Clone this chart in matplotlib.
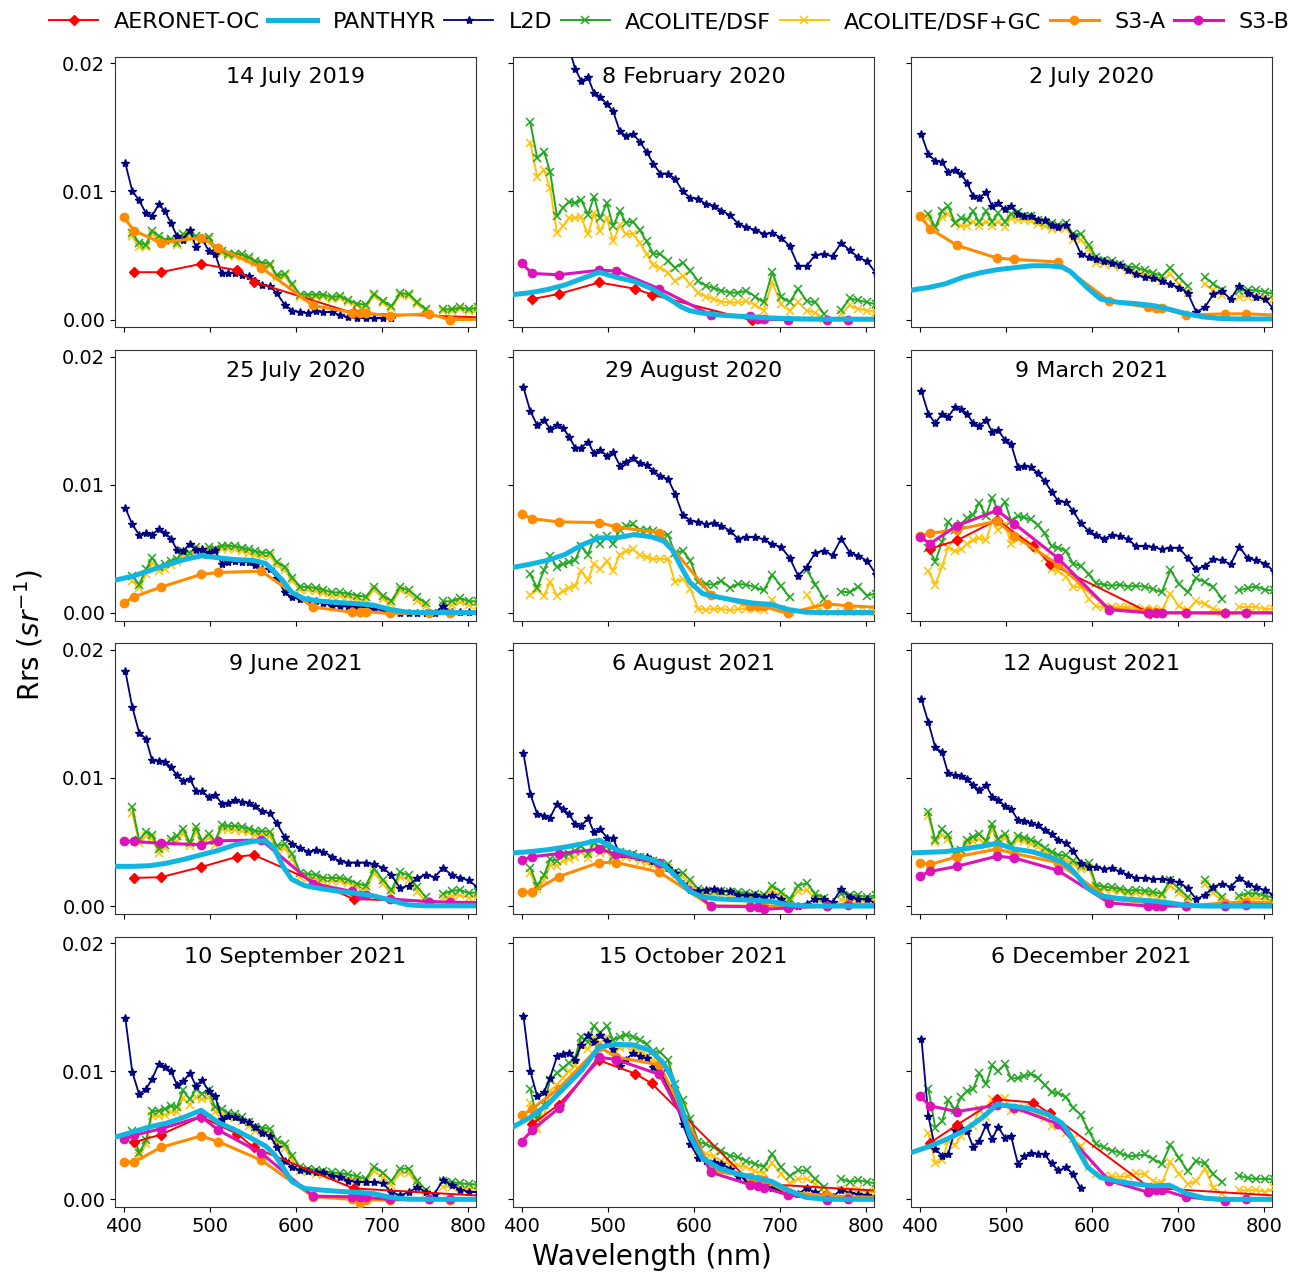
import numpy as np
import matplotlib
matplotlib.use("Agg")
import matplotlib.pyplot as plt
from matplotlib.lines import Line2D
from matplotlib.ticker import FormatStrFormatter

nan = np.nan
U = 1e-3  # values below are Rrs in units of 1e-3 sr^-1

DATES = ["14 July 2019", "8 February 2020", "2 July 2020", "25 July 2020",
         "29 August 2020", "9 March 2021", "9 June 2021", "6 August 2021",
         "12 August 2021", "10 September 2021", "15 October 2021", "6 December 2021"]

# wavelengths (nm)
PW = [402, 410, 418, 426, 433, 441, 448, 455, 462, 469, 477, 484, 491, 499, 506, 514,
      521, 529, 537, 545, 553, 561, 570, 578, 587, 596, 605, 614, 623, 632, 642, 651,
      661, 671, 681, 691, 701, 711, 721, 731, 741, 751, 761, 771, 781, 791, 801, 811]
OW = [400, 412, 443, 490, 510, 560, 620, 665, 674, 681, 709, 754, 779, 865]
AW = [412, 443, 490, 532, 551, 667, 870]
PANW = [390, 410, 430, 450, 470, 490, 510, 530, 550, 565, 575, 585, 595, 610, 630,
        650, 670, 690, 710, 730, 750, 770, 790, 810]

# ---------------- L2D ----------------
L2D_01 = [12.2, 10.05, 9.3, 8.3, 8.1, 9.0, 8.45, 7.55, 6.5, 6.25, 7.0, 5.65, 6.3, 5.35, 5.15, 3.6, 3.6, 3.65, 3.5, 3.4, 3.0, 2.7, 2.6, 2.05, 1.15, 0.7, 0.57, 0.5, 0.65, 0.6, 0.57, 0.36, 0.18, 0.13, 0.1, 0.1, 0.1, 0.1]
L2D_02 = [28.0, 26.5, 25.5, 24.5, 23.5, 22.5, 22.0, 21.2, 19.6, 18.65, 18.9, 17.7, 17.4, 16.8, 16.3, 14.7, 14.35, 14.5, 13.9, 13.1, 12.15, 11.4, 11.4, 11.0, 10.0, 9.5, 9.45, 9.0, 8.9, 8.5, 8.15, 7.5, 7.2, 7.0, 6.7, 6.75, 6.4, 5.75, 4.2, 4.2, 5.05, 5.1, 4.95, 6.0, 5.4, 4.85, 4.55, 3.65]
L2D_03 = [14.45, 12.9, 12.4, 12.3, 11.5, 11.7, 11.35, 10.65, 9.65, 9.5, 9.95, 8.85, 9.1, 8.6, 8.85, 8.25, 8.05, 8.05, 7.8, 7.75, 7.4, 7.25, 7.4, 6.5, 5.15, 4.85, 4.75, 4.55, 4.45, 4.25, 3.85, 3.55, 3.3, 3.25, 3.0, 2.75, 2.5, 2.1, 0.6, 0.95, 2.0, 2.2, 1.6, 2.65, 2.1, 1.75, 1.6, 0.8]
L2D_04 = [8.2, 6.9, 6.1, 6.25, 6.1, 6.55, 6.25, 5.8, 4.9, 4.8, 5.4, 4.9, 4.95, 4.7, 4.9, 3.8, 3.95, 4.05, 4.0, 3.95, 3.75, 3.4, 3.4, 2.75, 1.6, 1.2, 1.1, 1.0, 0.9, 0.75, 0.55, 0.5, 0.5, 0.45, 0.45, 0.3, 0.2, 0.0, 0.02, 0.02, 0.02, 0.02, 0.02, 0.5, 0.05, 0.05, 0.05, 0.05]
L2D_05 = [17.6, 15.75, 14.65, 15.05, 14.35, 14.7, 14.45, 13.75, 12.9, 12.9, 13.35, 12.45, 12.75, 12.25, 12.55, 11.5, 11.8, 12.05, 11.7, 11.55, 11.1, 10.65, 10.45, 9.3, 7.65, 7.2, 7.1, 6.9, 7.0, 6.8, 6.4, 5.8, 5.9, 5.9, 5.75, 5.35, 5.15, 4.3, 2.9, 3.6, 4.7, 4.85, 4.5, 5.8, 4.7, 4.45, 4.05, 3.05]
L2D_06 = [17.3, 15.55, 14.8, 15.55, 15.3, 16.05, 15.9, 15.55, 14.8, 14.6, 15.05, 14.15, 14.25, 13.5, 13.2, 11.4, 11.5, 11.4, 10.9, 10.3, 9.45, 8.7, 8.65, 7.95, 7.0, 6.4, 6.05, 5.8, 6.05, 6.0, 5.75, 5.2, 5.2, 5.15, 4.95, 5.1, 5.05, 4.3, 3.4, 3.65, 4.2, 4.1, 3.8, 5.15, 4.25, 4.1, 3.85, 3.25]
L2D_07 = [18.35, 15.55, 13.55, 13.05, 11.4, 11.35, 11.25, 10.85, 10.2, 9.8, 9.9, 9.0, 8.95, 8.5, 8.7, 8.0, 8.05, 8.25, 8.15, 8.05, 7.8, 7.4, 7.25, 6.45, 5.4, 4.85, 4.55, 4.25, 4.35, 4.25, 3.85, 3.5, 3.4, 3.4, 3.4, 3.25, 3.0, 2.4, 1.4, 1.6, 2.2, 2.45, 2.25, 3.0, 2.4, 2.2, 2.0, 1.45]
L2D_08 = [11.95, 8.75, 7.2, 7.05, 6.9, 8.0, 7.55, 7.2, 6.4, 6.25, 6.85, 5.75, 6.0, 5.35, 5.3, 4.05, 4.05, 4.0, 3.85, 3.8, 3.55, 3.25, 3.0, 2.55, 1.7, 1.25, 1.2, 1.25, 1.35, 1.2, 1.15, 0.9, 0.85, 0.85, 0.7, 0.85, 0.55, 0.1, 0.0, 0.2, 0.55, 0.55, 0.3, 1.35, 0.7, 0.55, 0.55, 0.2]
L2D_09 = [16.15, 14.35, 12.4, 12.0, 10.35, 10.2, 10.15, 9.95, 9.45, 9.05, 9.45, 8.55, 8.3, 7.8, 7.6, 6.7, 6.65, 6.5, 6.3, 5.95, 5.65, 5.15, 4.95, 4.3, 3.4, 3.05, 3.05, 2.9, 2.95, 2.7, 2.45, 2.2, 2.2, 2.1, 2.1, 2.0, 1.85, 1.4, 0.55, 0.85, 1.5, 1.75, 1.5, 2.2, 1.75, 1.45, 1.25, 0.85]
L2D_10 = [14.15, 9.95, 8.2, 8.6, 9.4, 10.6, 10.35, 10.0, 8.95, 9.2, 9.85, 8.85, 9.3, 8.45, 8.1, 6.3, 6.5, 6.4, 6.2, 6.0, 5.65, 5.2, 4.95, 4.05, 3.0, 2.5, 2.25, 2.2, 2.1, 2.1, 1.85, 1.75, 1.45, 1.35, 1.35, 1.35, 1.25, 0.55, 0.3, 0.55, 0.95, 0.55, 0.45, 1.5, 1.1, 0.75, 0.6, 0.55]
L2D_11 = [14.35, 10.0, 8.05, 8.4, 9.5, 11.15, 11.35, 11.4, 10.9, 12.05, 12.85, 12.3, 12.8, 12.35, 11.75, 10.4, 10.9, 11.4, 11.15, 11.0, 10.35, 10.0, 8.85, 7.75, 5.85, 4.3, 3.25, 3.0, 2.95, 2.75, 2.4, 1.85, 1.6, 1.4, 1.2, 0.85, 0.75, 0.5, 0.45, 0.85, 0.55, 0.3, 0.2, 0.75, 0.5, 0.4, 0.3, 0.2]
L2D_12 = [12.55, 6.5, 3.95, 3.4, 3.55, 5.4, 5.6, 5.3, 4.1, 4.55, 5.8, 4.7, 5.65, 4.8, 4.95, 2.75, 3.35, 3.6, 3.55, 3.5, 2.8, 2.25, 2.5, 1.95, 0.85]

# ---------------- ACOLITE/DSF ----------------
DSF_01 = [nan, 6.75, 6.0, 5.85, 6.95, 6.5, 6.25, 6.3, 6.0, 6.65, 6.75, 6.5, 6.25, 6.45, 5.6, 5.35, 5.15, 5.15, 5.1, 4.85, 4.55, 4.45, 4.35, 3.45, 3.55, 2.75, 1.95, 1.95, 1.95, 1.95, 1.75, 1.85, 1.5, 1.25, 1.15, 2.0, 1.45, 1.05, 2.05, 2.0, 1.35, 0.8, nan, 0.8, 0.8, 0.95, 0.8, 0.95]
DSF_02 = [nan, 15.4, 12.6, 13.1, 11.55, 8.05, 8.75, 9.2, 9.1, 9.35, 8.2, 9.6, 7.9, 9.1, 7.3, 8.45, 7.55, 7.65, 7.0, 6.1, 5.15, 5.1, 4.6, 4.05, 4.45, 3.8, 3.0, 2.65, 2.45, 2.25, 2.1, 2.1, 2.25, 1.8, 1.35, 3.7, 1.8, 1.35, 2.4, 1.45, 1.35, 0.45, nan, 0.75, 1.65, 1.5, 1.35, 1.2]
DSF_03 = [nan, 8.25, 7.2, 8.5, 8.85, 7.55, 7.9, 7.8, 8.45, 7.6, 8.45, 7.65, 8.3, 7.65, 8.25, 8.4, 8.1, 8.05, 7.8, 7.65, 7.55, 7.35, 7.55, 6.65, 6.7, 5.85, 4.85, 4.65, 4.55, 4.35, 4.1, 4.1, 3.85, 3.65, 3.4, 4.05, 3.3, 2.6, nan, 3.3, 2.8, 2.3, nan, 2.25, 2.3, 2.3, 2.15, 2.0]
DSF_04 = [nan, 2.9, 2.2, 3.4, 4.3, 3.55, 3.8, 4.05, 4.2, 4.85, 4.7, 5.15, 4.7, 5.15, 4.95, 5.25, 5.25, 5.2, 5.1, 4.95, 4.8, 4.7, 4.7, 3.95, 3.6, 2.75, 2.05, 2.0, 1.95, 1.8, 1.6, 1.6, 1.5, 1.35, 1.25, 2.05, 1.35, 0.95, 2.0, 1.75, 1.2, 0.75, nan, 0.9, 0.9, 1.15, 0.9, 0.9]
DSF_05 = [nan, 3.0, 1.95, 3.35, 4.45, 3.55, 3.8, 3.95, 4.1, 5.2, 4.55, 5.85, 5.35, 6.0, 5.4, 6.5, 6.75, 6.9, 6.5, 6.5, 6.35, 6.1, 6.1, 4.65, 4.85, 4.05, 2.4, 2.25, 2.2, 2.5, 1.95, 2.25, 2.2, 2.0, 1.75, 2.95, 2.1, 1.2, nan, 3.35, 2.2, 1.1, nan, 1.65, 1.6, 2.05, 1.35, 1.5]
DSF_06 = [nan, 5.1, 4.0, 5.55, 7.1, 6.5, 6.95, 7.4, 7.65, 8.6, 7.55, 9.0, 7.95, 8.65, 7.2, 7.55, 7.45, 7.3, 6.85, 6.2, 5.2, 5.1, 4.8, 3.85, 3.65, 3.0, 2.3, 2.2, 2.1, 2.2, 2.05, 2.1, 2.05, 1.85, 1.6, 3.35, 2.25, 1.6, 2.7, 2.4, 2.0, 1.1, nan, 1.75, 1.95, 2.05, 1.8, 1.75]
DSF_07 = [nan, 7.75, 5.15, 5.8, 5.55, 4.45, 4.8, 5.2, 5.45, 6.05, 4.95, 6.2, 5.1, 5.65, 5.05, 6.35, 6.25, 6.25, 6.2, 6.05, 5.85, 5.85, 5.8, 4.7, 4.85, 4.05, 2.6, 2.5, 2.45, 2.2, 2.2, 2.2, 2.05, 1.75, 1.6, 2.9, 2.05, 1.25, 2.65, 2.4, 1.45, 0.7, nan, 0.95, 1.2, 1.25, 1.0, 1.1]
DSF_08 = [nan, 3.0, 1.6, 2.4, 3.65, 3.55, 3.95, 4.05, 4.3, 4.7, 4.1, 4.95, 4.55, 4.7, 3.85, 4.2, 4.1, 4.05, 3.85, 3.65, 3.5, 3.35, 3.3, 2.65, 2.6, 2.0, 1.35, 1.2, 1.15, 1.15, 1.1, 1.1, 1.0, 0.95, 0.85, 1.6, 1.1, 0.55, 1.6, 1.8, 0.95, 0.65, nan, 0.95, 0.85, 0.85, 0.7, 0.85]
DSF_09 = [nan, 7.35, 5.15, 6.0, 5.55, 4.05, 4.35, 5.15, 5.4, 5.6, 5.1, 6.4, 5.2, 5.65, 4.8, 5.5, 5.35, 5.15, 4.95, 4.55, 4.2, 4.0, 3.95, 3.55, 3.15, 3.4, 1.6, 1.5, 1.45, 1.35, 1.2, 1.25, 1.2, 1.1, 0.95, 2.0, 1.35, 0.7, nan, 2.05, 1.35, 0.7, nan, 0.8, 1.0, 1.0, 0.8, 0.65]
DSF_10 = [nan, 5.35, 3.65, 4.6, 6.9, 6.9, 7.05, 7.3, 7.2, 8.5, 7.8, 8.6, 8.25, 8.5, 7.2, 7.05, 6.75, 6.65, 6.4, 6.05, 5.65, 5.6, 5.5, 4.6, 4.3, 3.4, 2.5, 2.4, 2.3, 2.2, 2.1, 2.05, 1.95, 1.8, 1.6, 2.55, 2.05, 1.45, 2.4, 2.4, 1.45, 0.75, nan, 1.45, 1.35, 1.25, 1.2, 1.15]
DSF_11 = [nan, 8.6, 6.25, 7.4, 9.35, 9.85, 10.25, 10.65, 11.05, 12.7, 12.3, 13.55, 13.0, 13.55, 12.45, 12.65, 12.85, 12.7, 12.45, 12.1, 11.55, 11.5, 10.85, 9.0, 7.75, 6.25, 4.5, 4.3, 4.05, 3.8, 3.4, 3.3, 3.0, 2.75, 2.55, 3.5, 2.5, 1.8, 2.25, 2.25, 1.6, 0.95, nan, 1.6, 1.35, 1.5, 1.35, 1.25]
DSF_12 = [nan, 8.65, 5.6, 6.1, 7.75, 7.0, 7.95, 8.45, 8.6, 9.85, 9.0, 10.45, 10.0, 10.55, 9.45, 9.45, 9.6, 9.8, 9.5, 8.95, 8.35, 8.3, 7.95, 7.15, 6.6, 5.35, 4.3, 4.05, 3.8, 3.65, 3.35, 3.4, 3.5, 3.15, 2.75, 4.25, 3.25, 2.2, 3.0, 2.8, 1.95, 1.35, nan, 1.85, 1.65, 1.6, 1.6, 1.55]

# ---------------- ACOLITE/DSF+GC ----------------
GC_01 = [nan, 6.5, 5.65, 5.65, 6.7, 6.3, 6.1, 6.1, 5.8, 6.4, 6.5, 6.3, 6.1, 6.3, 5.45, 5.2, 5.0, 5.0, 4.9, 4.7, 4.4, 4.3, 4.2, 3.3, 3.4, 2.6, 1.8, 1.8, 1.8, 1.8, 1.6, 1.7, 1.35, 1.1, 1.0, 1.85, 1.3, 0.9, 1.9, 1.85, 1.2, 0.65, nan, 0.65, 0.65, 0.8, 0.65, 0.8]
GC_02 = [nan, 13.8, 11.15, 11.7, 10.25, 6.75, 7.3, 7.9, 7.95, 8.0, 6.65, 8.3, 6.9, 7.95, 6.1, 7.35, 6.65, 6.7, 6.0, 5.1, 4.25, 4.05, 3.65, 3.0, 3.4, 2.75, 2.1, 1.8, 1.6, 1.4, 1.35, 1.35, 1.45, 1.15, 0.7, 2.9, 1.2, 0.7, 1.35, 0.7, 0.55, 0.05, nan, 0.45, 1.1, 0.85, 0.7, 0.6]
GC_03 = [nan, 7.9, 7.15, 8.0, 8.25, 7.55, 7.3, 7.3, 7.65, 7.3, 7.65, 7.3, 7.65, 7.25, 7.95, 7.8, 7.8, 7.7, 7.45, 7.3, 7.05, 7.05, 7.15, 6.25, 6.25, 5.5, 4.45, 4.35, 4.3, 4.1, 3.8, 3.65, 3.55, 3.35, 3.05, 3.55, 2.75, 2.1, nan, 2.75, 2.3, 1.9, nan, 1.8, 1.8, 1.8, 1.75, 1.6]
GC_04 = [nan, 2.5, 1.9, 3.0, 3.9, 3.3, 3.45, 3.7, 3.95, 4.5, 4.45, 4.9, 4.5, 4.9, 4.7, 5.0, 5.0, 4.95, 4.85, 4.7, 4.55, 4.45, 4.45, 3.7, 3.35, 2.5, 1.8, 1.75, 1.7, 1.55, 1.35, 1.35, 1.25, 1.1, 1.0, 1.8, 1.1, 0.7, 1.75, 1.5, 0.95, 0.5, nan, 0.6, 0.6, 0.85, 0.6, 0.6]
GC_05 = [nan, 1.4, 1.8, 1.35, 2.4, 1.35, 1.7, 1.95, 2.1, 3.3, 2.55, 3.85, 3.4, 4.05, 3.3, 4.55, 4.8, 4.95, 4.5, 4.35, 4.2, 4.2, 4.2, 2.4, 2.65, 1.85, 0.3, 0.25, 0.3, 0.3, 0.2, 0.3, 0.3, 0.3, 0.2, 1.0, 0.3, 0.1, nan, 1.4, 0.45, 0.05, nan, 0.05, 0.05, 0.05, 0.05, 0.05]
GC_06 = [nan, 3.25, 2.2, 3.65, 5.15, 4.8, 4.95, 5.35, 5.65, 5.85, 5.65, 7.15, 6.45, 6.95, 5.35, 5.75, 5.6, 5.35, 4.9, 4.3, 3.4, 3.25, 2.8, 2.0, 2.05, 1.1, 0.5, 0.45, 0.45, 0.45, 0.45, 0.4, 0.3, 0.3, 0.2, 1.5, 0.5, 0.2, 0.9, 0.7, 0.3, 0.1, nan, 0.45, 0.45, 0.45, 0.3, 0.3]
GC_07 = [nan, 7.3, 4.95, 5.45, 5.3, 4.15, 4.55, 5.0, 5.1, 5.7, 4.7, 5.85, 4.85, 5.35, 4.75, 6.05, 5.95, 5.95, 5.85, 5.75, 5.55, 5.55, 5.45, 4.4, 4.5, 3.7, 2.3, 2.2, 2.15, 1.95, 1.95, 1.95, 1.8, 1.5, 1.35, 2.6, 1.75, 0.95, 2.3, 2.05, 1.1, 0.4, nan, 0.6, 0.8, 0.85, 0.65, 0.75]
GC_08 = [nan, 2.6, 1.3, 2.0, 3.2, 3.15, 3.5, 3.65, 3.8, 4.25, 3.75, 4.5, 4.15, 4.3, 3.5, 3.9, 3.8, 3.75, 3.55, 3.4, 3.2, 3.05, 3.0, 2.35, 2.3, 1.7, 1.05, 0.95, 0.9, 0.9, 0.85, 0.85, 0.75, 0.7, 0.6, 1.25, 0.8, 0.3, 1.2, 1.25, 0.6, 0.3, nan, 0.5, 0.5, 0.45, 0.4, 0.4]
GC_09 = [nan, 7.05, 5.0, 5.55, 5.2, 4.2, 4.2, 4.85, 5.1, 5.25, 4.8, 6.0, 4.95, 5.35, 4.55, 5.2, 5.05, 4.85, 4.65, 4.25, 3.9, 3.7, 3.6, 3.25, 2.9, 3.0, 1.4, 1.3, 1.25, 1.15, 1.0, 1.05, 1.0, 0.9, 0.75, 1.6, 1.05, 0.45, nan, 1.7, 1.0, 0.45, nan, 0.45, 0.6, 0.6, 0.55, 0.4]
GC_10 = [nan, 4.95, 3.35, 4.3, 6.5, 6.5, 6.6, 6.85, 6.8, 7.9, 7.35, 8.0, 7.8, 7.95, 6.85, 6.75, 6.45, 6.35, 6.1, 5.75, 5.35, 5.3, 5.2, 4.3, 4.0, 3.1, 2.2, 2.1, 2.0, 1.9, 1.8, 1.75, 1.65, 1.5, 1.35, 2.2, 1.7, 1.15, 2.05, 2.05, 1.15, 0.5, nan, 1.0, 0.95, 0.9, 0.85, 0.8]
GC_11 = [nan, 7.55, 5.5, 6.5, 8.45, 8.95, 9.5, 10.0, 10.4, 12.05, 11.7, 12.7, 12.2, 12.7, 11.7, 11.8, 11.95, 11.8, 11.6, 11.3, 10.85, 10.7, 10.25, 8.45, 7.15, 5.35, 3.8, 3.55, 3.35, 3.0, 2.75, 2.65, 2.5, 2.2, 2.05, 2.8, 2.0, 1.25, 1.6, 1.6, 1.2, 0.55, nan, 0.8, 0.7, 0.8, 0.55, 0.55]
GC_12 = [nan, 5.2, 2.8, 3.05, 4.55, 4.25, 4.95, 5.35, 5.75, 7.05, 6.4, 7.8, 7.55, 7.9, 6.9, 7.05, 7.1, 6.95, 6.7, 6.35, 5.75, 5.75, 5.15, 4.7, 4.2, 2.55, 1.95, 1.8, 1.8, 1.75, 1.8, 2.05, 1.95, 1.45, 1.25, 2.9, 2.0, 1.2, 1.4, 2.4, 0.9, 0.45, nan, 0.7, 0.7, 0.75, 0.55, 0.85]

# ---------------- AERONET-OC ----------------
AER_01 = [3.7, 3.7, 4.35, 3.85, 2.95, 0.5, 0.05]
AER_02 = [1.6, 2.0, 2.9, 2.4, 1.95, -0.05, 0.0]
AER_06 = [5.0, 5.65, 7.25, 5.2, 3.85, 0.0, 0.0]
AER_07 = [2.2, 2.25, 3.05, 3.85, 4.0, 0.55, 0.1]
AER_10 = [4.45, 5.05, 6.45, 5.1, 4.05, 0.85, 0.07]
AER_11 = [5.85, 7.4, 10.85, 9.8, 9.05, 1.25, 0.45]
AER_12 = [4.4, 5.8, 7.8, 7.55, 6.7, 0.9, 0.05]

# ---------------- S3-A ----------------
S3A_01 = [8.0, 6.95, 6.0, 6.4, 5.6, 4.05, 1.1, 0.55, 0.55, 0.5, 0.3, 0.45, 0.0, 0.05]
S3A_03 = [8.1, 7.1, 5.8, 4.8, 4.7, 4.5, 1.45, 0.95, 0.9, 0.9, 0.35, 0.45, 0.45, 0.2]
S3A_04 = [0.75, 1.25, 2.0, 3.0, 3.15, 3.25, 0.45, 0.05, 0.05, 0.1, -0.05, -0.05, -0.05, 0.0]
S3A_05 = [7.7, 7.35, 7.1, 7.05, 6.7, 6.25, 1.4, 0.55, 0.55, 0.5, -0.05, 0.7, 0.55, 0.25]
S3A_06 = [6.0, 6.2, 6.5, 7.15, 6.0, 3.8, 0.3, 0.15, 0.05, 0.0, 0.0, -0.05, 0.0, 0.0]
S3A_08 = [1.1, 1.1, 2.3, 3.4, 3.4, 2.65, 0.0, 0.0, 0.0, 0.0, 0.0, 0.0, 0.18, 0.0]
S3A_09 = [3.4, 3.25, 3.85, 4.45, 4.1, 3.4, 0.55, 0.25, 0.2, 0.2, 0.0, 0.25, 0.3, 0.15]
S3A_10 = [2.95, 2.9, 4.05, 4.95, 4.5, 3.05, 0.2, 0.0, -0.3, -0.05, -0.05, 0.0, -0.05, 0.0]
S3A_11 = [6.55, 7.05, 8.65, 11.9, 11.1, 10.5, 2.25, 1.75, 1.6, 1.5, 0.55, 0.3, 0.2, 0.1]

# ---------------- S3-B ----------------
S3B_02 = [4.4, 3.6, 3.5, 3.85, 3.8, 2.4, 0.35, 0.3, 0.05, 0.05, 0.0, 0.0, 0.0, 0.0]
S3B_06 = [5.95, 5.4, 6.8, 8.0, 6.95, 4.3, 0.25, 0.0, 0.0, 0.0, 0.0, 0.0, 0.0, 0.0]
S3B_07 = [5.1, 5.05, 4.9, 4.8, 5.1, 5.15, 1.75, 1.15, 0.85, 0.85, 0.55, 0.35, 0.3, 0.25]
S3B_08 = [3.6, 3.85, 4.1, 4.45, 4.05, 3.35, 0.0, -0.05, -0.05, -0.25, -0.15, 0.0, 0.05, 0.0]
S3B_09 = [2.35, 2.7, 3.1, 3.9, 3.75, 2.8, 0.25, 0.0, 0.0, 0.0, 0.0, 0.0, 0.1, 0.05]
S3B_10 = [4.7, 5.0, 5.5, 6.45, 5.4, 3.6, 0.25, 0.2, 0.15, 0.15, 0.0, 0.0, 0.0, 0.0]
S3B_11 = [4.5, 5.4, 7.1, 11.1, 10.9, 9.75, 2.1, 1.15, 1.05, 0.9, 0.35, -0.05, 0.0, 0.0]
S3B_12 = [8.05, 7.3, 6.85, 7.35, 7.15, 5.9, 1.45, 0.55, 0.75, 0.75, 0.18, -0.1, 0.0, 0.0]

# ---------------- PANTHYR ----------------
PAN_02 = [1.95, 2.1, 2.35, 2.7, 3.2, 3.7, 3.3, 3.0, 2.45, 1.85, 1.45, 1.0, 0.7, 0.5, 0.35, 0.27, 0.2, 0.12, 0.08, 0.05, 0.03, 0.03, 0.03, 0.03]
PAN_03 = [2.3, 2.5, 2.8, 3.3, 3.65, 3.9, 4.05, 4.2, 4.2, 4.1, 3.75, 3.1, 2.45, 1.6, 1.35, 1.25, 1.1, 0.8, 0.45, 0.2, 0.08, 0.05, 0.05, 0.05]
PAN_04 = [2.55, 2.85, 3.3, 3.75, 4.15, 4.45, 4.3, 4.15, 4.1, 3.85, 3.2, 2.5, 1.6, 1.1, 0.9, 0.8, 0.72, 0.6, 0.25, 0.05, 0.02, 0.02, 0.02, 0.02]
PAN_05 = [3.55, 3.8, 4.1, 4.55, 5.3, 5.85, 5.85, 6.1, 5.95, 5.6, 4.9, 3.6, 2.4, 1.5, 1.2, 0.95, 0.75, 0.65, 0.25, 0.05, 0.02, 0.02, 0.02, 0.02]
PAN_07 = [3.1, 3.1, 3.15, 3.35, 3.65, 4.0, 4.35, 4.8, 5.05, 5.1, 4.5, 3.1, 2.1, 1.6, 1.35, 1.15, 1.0, 0.8, 0.45, 0.1, 0.02, 0.02, 0.02, 0.02]
PAN_08 = [4.15, 4.25, 4.4, 4.6, 4.85, 5.15, 4.4, 4.0, 3.65, 3.2, 2.6, 1.9, 1.15, 0.7, 0.55, 0.5, 0.45, 0.35, 0.1, 0.02, 0.0, 0.0, 0.0, 0.0]
PAN_09 = [4.15, 4.2, 4.25, 4.45, 4.65, 4.9, 4.45, 4.25, 3.85, 3.45, 2.95, 2.2, 1.4, 0.8, 0.6, 0.5, 0.4, 0.25, 0.05, 0.0, 0.0, 0.0, 0.0, 0.0]
PAN_10 = [4.85, 5.25, 5.65, 5.95, 6.4, 6.95, 6.0, 5.4, 4.7, 4.15, 3.5, 2.5, 1.4, 0.85, 0.72, 0.62, 0.55, 0.45, 0.15, 0.02, 0.0, 0.0, 0.0, 0.0]
PAN_11 = [5.65, 6.4, 7.4, 8.75, 10.1, 11.9, 12.1, 12.05, 11.6, 10.6, 9.4, 7.3, 5.0, 3.2, 2.4, 2.0, 1.7, 1.4, 0.7, 0.15, 0.02, 0.0, 0.0, 0.0]
PAN_12 = [3.65, 4.1, 4.65, 5.3, 6.25, 7.4, 7.25, 7.05, 6.6, 5.95, 5.0, 3.7, 2.5, 1.7, 1.4, 1.2, 1.05, 1.1, 0.45, 0.1, 0.0, 0.0, 0.0, 0.0]

# per-panel series (None = not available)
AER = [AER_01, AER_02, None, None, None, AER_06, AER_07, None, None, AER_10, AER_11, AER_12]
PAN = [None, PAN_02, PAN_03, PAN_04, PAN_05, None, PAN_07, PAN_08, PAN_09, PAN_10, PAN_11, PAN_12]
L2D = [L2D_01, L2D_02, L2D_03, L2D_04, L2D_05, L2D_06, L2D_07, L2D_08, L2D_09, L2D_10, L2D_11, L2D_12]
DSF = [DSF_01, DSF_02, DSF_03, DSF_04, DSF_05, DSF_06, DSF_07, DSF_08, DSF_09, DSF_10, DSF_11, DSF_12]
GC = [GC_01, GC_02, GC_03, GC_04, GC_05, GC_06, GC_07, GC_08, GC_09, GC_10, GC_11, GC_12]
S3A = [S3A_01, None, S3A_03, S3A_04, S3A_05, S3A_06, None, S3A_08, S3A_09, S3A_10, S3A_11, None]
S3B = [None, S3B_02, None, None, None, S3B_06, S3B_07, S3B_08, S3B_09, S3B_10, S3B_11, S3B_12]

C_AER = "#ff0000"
C_PAN = "#12b5e0"
C_L2D = "#000080"
C_DSF = "#22a722"
C_GC = "#ffc20a"
C_S3A = "#ff8c00"
C_S3B = "#dc14b8"

STY = {
    "aer": dict(color=C_AER, marker="D", ms=5.5, lw=1.4, zorder=6),
    "pan": dict(color=C_PAN, lw=3.6, zorder=9, solid_capstyle="round", solid_joinstyle="round"),
    "l2d": dict(color=C_L2D, marker="*", ms=6, lw=1.3, zorder=5),
    "dsf": dict(color=C_DSF, marker="x", ms=6, mew=1.1, lw=1.4, zorder=4),
    "gc": dict(color=C_GC, marker="x", ms=6, mew=1.1, lw=1.4, zorder=3),
    "s3a": dict(color=C_S3A, marker="o", ms=6, lw=2.2, zorder=7),
    "s3b": dict(color=C_S3B, marker="o", ms=6, lw=2.2, zorder=8),
}


def padded(vals, n):
    a = np.full(n, np.nan)
    a[:len(vals)] = vals
    return a * U


fig, axes = plt.subplots(4, 3, figsize=(12.99, 12.73), dpi=100, sharex=True, sharey=True)
fig.subplots_adjust(left=115 / 1299, right=1272 / 1299, top=1 - 57 / 1273,
                    bottom=1 - 1207 / 1273, wspace=0.103, hspace=0.085)

for i, ax in enumerate(axes.flat):
    if AER[i] is not None:
        ax.plot(AW, padded(AER[i], len(AW)), **STY["aer"])
    if L2D[i] is not None:
        ax.plot(PW, padded(L2D[i], len(PW)), **STY["l2d"])
    if DSF[i] is not None:
        ax.plot(PW, padded(DSF[i], len(PW)), **STY["dsf"])
    if GC[i] is not None:
        ax.plot(PW, padded(GC[i], len(PW)), **STY["gc"])
    if S3A[i] is not None:
        ax.plot(OW, padded(S3A[i], len(OW)), **STY["s3a"])
    if S3B[i] is not None:
        ax.plot(OW, padded(S3B[i], len(OW)), **STY["s3b"])
    if PAN[i] is not None:
        ax.plot(PANW, padded(PAN[i], len(PANW)), **STY["pan"])
    ax.text(0.5, 0.925, DATES[i], transform=ax.transAxes, ha="center", va="center", fontsize=16)
    ax.set_xlim(390, 809)
    ax.set_ylim(-0.0006, 0.0205)
    ax.set_xticks([400, 500, 600, 700, 800])
    ax.set_yticks([0.0, 0.01, 0.02])
    ax.yaxis.set_major_formatter(FormatStrFormatter("%.2f"))
    ax.tick_params(labelsize=14)
    for s in ax.spines.values():
        s.set_color("#333333")

fig.text(0.022, 0.501, "Rrs ($sr^{-1}$)", rotation=90, ha="center", va="center", fontsize=20)
fig.text(0.502, 0.0126, "Wavelength (nm)", ha="center", va="center", fontsize=20)

handles = [
    Line2D([], [], **{k: v for k, v in STY["aer"].items() if k != "zorder"}),
    Line2D([], [], color=C_PAN, lw=3.6),
    Line2D([], [], **{k: v for k, v in STY["l2d"].items() if k != "zorder"}),
    Line2D([], [], **{k: v for k, v in STY["dsf"].items() if k != "zorder"}),
    Line2D([], [], **{k: v for k, v in STY["gc"].items() if k != "zorder"}),
    Line2D([], [], **{k: v for k, v in STY["s3a"].items() if k != "zorder"}),
    Line2D([], [], **{k: v for k, v in STY["s3b"].items() if k != "zorder"}),
]
labels = ["AERONET-OC", "PANTHYR", "L2D", "ACOLITE/DSF", "ACOLITE/DSF+GC", "S3-A", "S3-B"]
fig.legend(handles, labels, loc="center left", bbox_to_anchor=(0.031, 1 - 22 / 1273),
           ncol=7, frameon=False, fontsize=16, handlelength=2.2, handletextpad=0.7,
           columnspacing=0.38, borderaxespad=0.0)

fig.savefig("out.png", dpi=100)
